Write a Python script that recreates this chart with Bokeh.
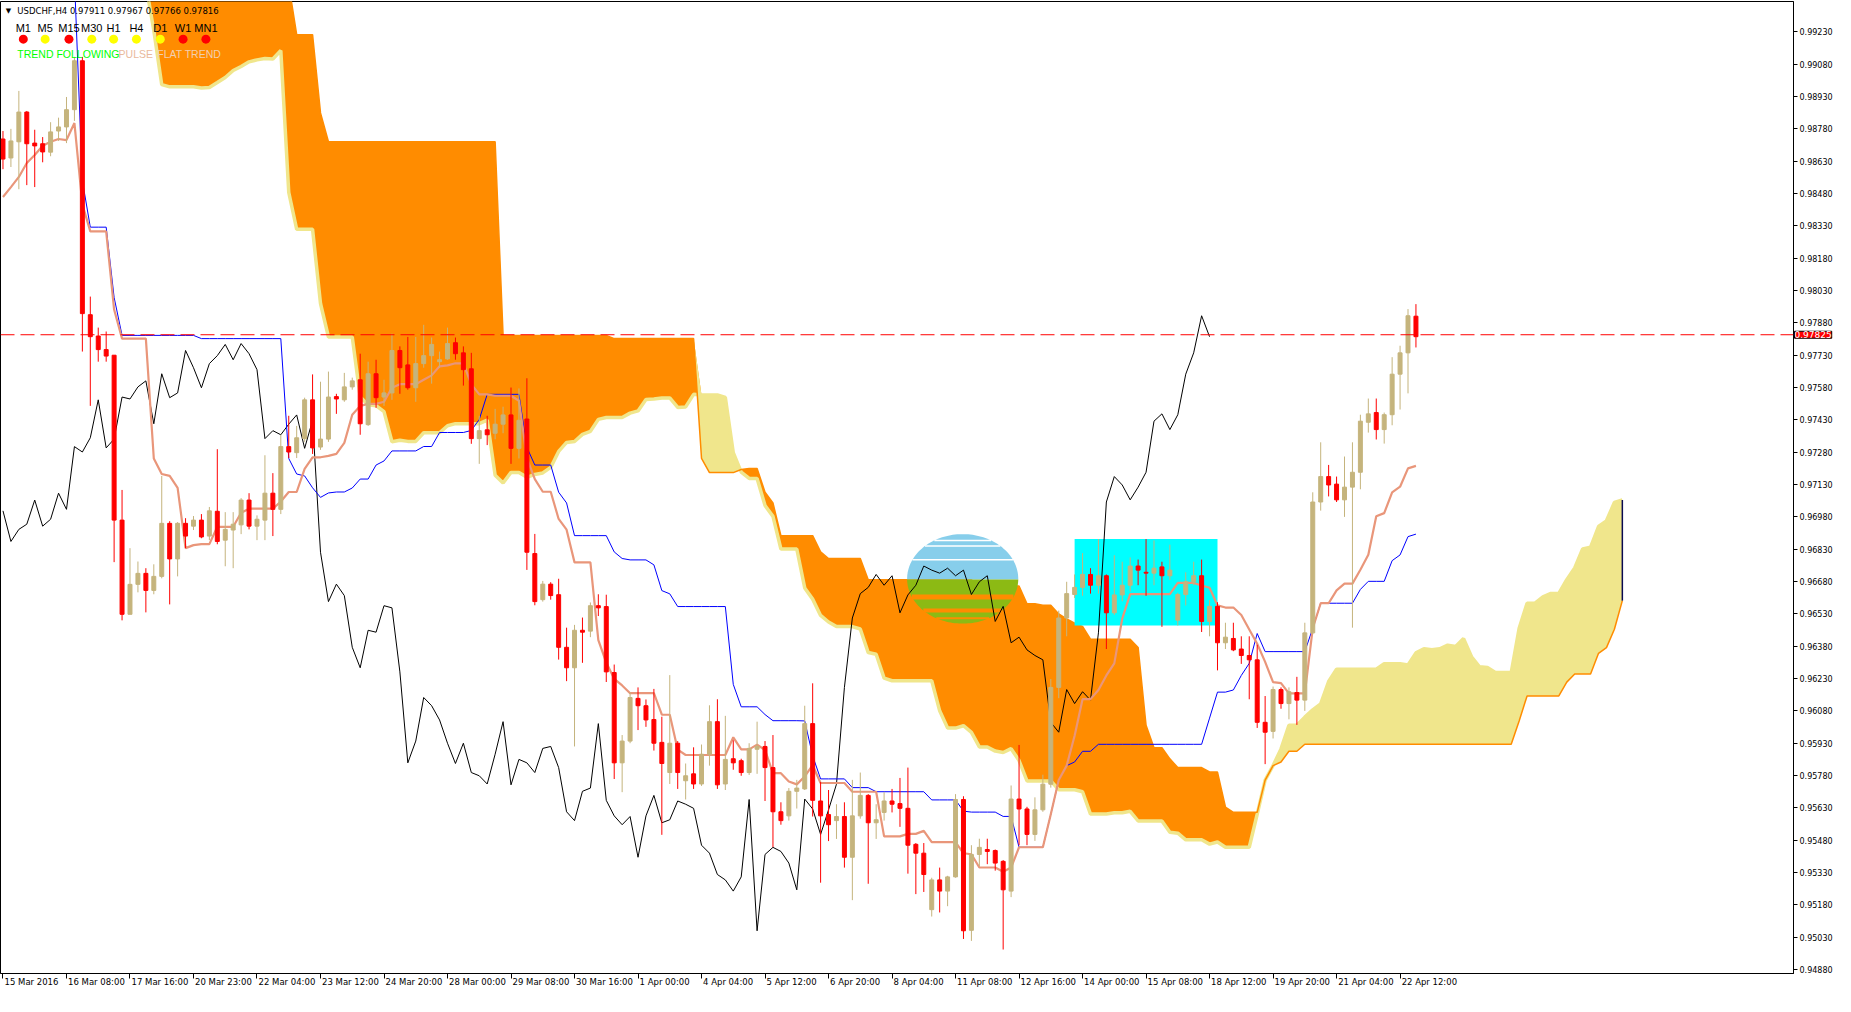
import numpy as np
from bokeh.plotting import figure
from bokeh.models import FixedTicker, PrintfTickFormatter, Span, Label
from bokeh.core.properties import value
from bokeh.embed import file_html
from bokeh.resources import INLINE

# ---------------- candle data (USDCHF H4), bars 0..178 ----------------
OPEN = [0.98733,0.98645,0.98720,0.98858,0.98714,0.98711,0.98672,0.98770,0.98789,0.98869,
        0.99096,0.97918,0.97819,0.97756,0.97730,0.96965,0.96528,0.96667,0.96718,0.96639,
        0.96704,0.96950,0.96785,0.96950,0.96937,0.96965,0.96891,0.97006,0.96872,0.96919,
        0.96943,0.97058,0.96937,0.96965,0.97090,0.97015,0.97306,0.97278,0.97343,0.97523,
        0.97304,0.97341,0.97538,0.97523,0.97583,0.97616,0.97408,0.97644,0.97536,0.97555,
        0.97752,0.97685,0.97579,0.97691,0.97728,0.97700,0.97713,0.97788,0.97741,0.97667,
        0.97343,0.97384,0.97368,0.97410,0.97453,0.97298,0.97434,0.96810,0.96596,0.96668,
        0.96619,0.96375,0.96280,0.96454,0.96450,0.96568,0.96564,0.96258,0.95839,0.95940,
        0.96138,0.96104,0.96040,0.95934,0.95794,0.95930,0.95756,0.95788,0.95741,0.95879,
        0.96030,0.95741,0.95858,0.95849,0.95794,0.95902,0.95915,0.95817,0.95612,0.95593,
        0.95707,0.95718,0.96021,0.95662,0.95599,0.95571,0.95590,0.95401,0.95593,0.95688,
        0.95561,0.95609,0.95662,0.95650,0.95628,0.95461,0.95420,0.95158,0.95296,0.95244,
        0.95310,0.95669,0.95062,0.95414,0.95437,0.95432,0.95382,0.95244,0.95671,0.95625,
        0.95507,0.95621,0.95740,0.96189,0.96511,0.96620,0.96653,0.96713,0.96663,0.96707,
        0.96535,0.96618,0.96663,0.96752,0.96723,0.96719,0.96748,0.96707,0.96501,0.96620,
        0.96679,0.96707,0.96495,0.96565,0.96396,0.96416,0.96367,0.96337,0.96317,0.96027,
        0.95985,0.96179,0.96114,0.96165,0.96130,0.96442,0.97049,0.97167,0.97132,0.97059,
        0.97118,0.97187,0.97419,0.97464,0.97385,0.97454,0.97642,0.97741,0.97911]
HIGH = [0.98770,0.98780,0.98956,0.98863,0.98776,0.98742,0.98811,0.98832,0.98928,0.99114,
        0.99114,0.98002,0.97858,0.97840,0.97730,0.97105,0.96835,0.96773,0.96742,0.96760,
        0.97170,0.96960,0.96956,0.96974,0.96984,0.96993,0.97026,0.97294,0.97002,0.97002,
        0.97067,0.97090,0.96987,0.97266,0.97183,0.97361,0.97449,0.97402,0.97533,0.97641,
        0.97607,0.97654,0.97551,0.97648,0.97626,0.97737,0.97700,0.97709,0.97616,0.97830,
        0.97771,0.97815,0.97815,0.97871,0.97812,0.97747,0.97858,0.97812,0.97771,0.97741,
        0.97449,0.97449,0.97481,0.97491,0.97580,0.97576,0.97623,0.96901,0.96683,0.96677,
        0.96693,0.96466,0.96479,0.96513,0.96583,0.96621,0.96619,0.96295,0.95968,0.96167,
        0.96189,0.96133,0.96182,0.96053,0.96246,0.95940,0.95836,0.95911,0.95924,0.96106,
        0.96134,0.96057,0.95944,0.95858,0.95930,0.96030,0.95940,0.95968,0.95656,0.95722,
        0.95760,0.96104,0.96208,0.95750,0.95713,0.95647,0.95656,0.95760,0.95794,0.95694,
        0.95647,0.95703,0.95718,0.95769,0.95817,0.95467,0.95467,0.95306,0.95353,0.95315,
        0.95694,0.95684,0.95457,0.95487,0.95487,0.95437,0.95388,0.95734,0.95922,0.95635,
        0.95679,0.95784,0.96228,0.96545,0.96679,0.96713,0.96812,0.96742,0.96877,0.96713,
        0.96802,0.96772,0.96792,0.96782,0.96877,0.96871,0.96772,0.96851,0.96628,0.96723,
        0.96772,0.96782,0.96594,0.96584,0.96489,0.96489,0.96426,0.96426,0.96387,0.96149,
        0.96193,0.96189,0.96189,0.96238,0.96489,0.97094,0.97326,0.97221,0.97167,0.97260,
        0.97326,0.97454,0.97529,0.97529,0.97464,0.97721,0.97774,0.97944,0.97967]
LOW = [0.98593,0.98603,0.98500,0.98519,0.98510,0.98625,0.98653,0.98724,0.98714,0.98817,
       0.97747,0.97495,0.97700,0.97700,0.96770,0.96500,0.96528,0.96630,0.96537,0.96621,
       0.96695,0.96574,0.96704,0.96835,0.96919,0.96881,0.96872,0.96853,0.96751,0.96742,
       0.96900,0.96922,0.96872,0.96872,0.96891,0.96993,0.97253,0.97253,0.97328,0.97272,
       0.97291,0.97328,0.97458,0.97514,0.97570,0.97361,0.97402,0.97486,0.97495,0.97523,
       0.97551,0.97570,0.97514,0.97672,0.97598,0.97672,0.97709,0.97709,0.97589,0.97319,
       0.97226,0.97313,0.97340,0.97368,0.97226,0.97251,0.96734,0.96570,0.96587,0.96596,
       0.96318,0.96218,0.95915,0.96303,0.96422,0.96520,0.96214,0.95764,0.95703,0.95930,
       0.95991,0.96006,0.95896,0.95505,0.95741,0.95718,0.95669,0.95718,0.95732,0.95826,
       0.95718,0.95713,0.95807,0.95779,0.95783,0.95788,0.95662,0.95448,0.95552,0.95571,
       0.95627,0.95713,0.95590,0.95283,0.95476,0.95486,0.95353,0.95202,0.95580,0.95278,
       0.95486,0.95571,0.95609,0.95542,0.95325,0.95230,0.95240,0.95126,0.95145,0.95174,
       0.95306,0.95022,0.95013,0.95359,0.95369,0.95339,0.94973,0.95216,0.95457,0.95457,
       0.95477,0.95612,0.95724,0.96139,0.96426,0.96604,0.96614,0.96624,0.96624,0.96367,
       0.96525,0.96588,0.96634,0.96663,0.96614,0.96663,0.96470,0.96687,0.96476,0.96569,
       0.96663,0.96446,0.96426,0.96268,0.96367,0.96357,0.96298,0.96134,0.96001,0.95833,
       0.95952,0.96090,0.96041,0.96015,0.96080,0.96436,0.97009,0.97075,0.97049,0.96980,
       0.96466,0.97108,0.97371,0.97339,0.97320,0.97405,0.97478,0.97553,0.97766]
CLOSE = [0.98640,0.98724,0.98858,0.98711,0.98701,0.98673,0.98766,0.98789,0.98869,0.99096,
         0.97923,0.97816,0.97756,0.97726,0.96965,0.96528,0.96667,0.96718,0.96639,0.96704,
         0.96950,0.96785,0.96950,0.96891,0.96965,0.96887,0.97008,0.96866,0.96922,0.96946,
         0.97058,0.96937,0.96969,0.97090,0.97015,0.97306,0.97281,0.97347,0.97523,0.97300,
         0.97341,0.97536,0.97527,0.97583,0.97611,0.97412,0.97644,0.97533,0.97555,0.97752,
         0.97672,0.97579,0.97691,0.97728,0.97780,0.97709,0.97784,0.97737,0.97663,0.97343,
         0.97380,0.97361,0.97410,0.97453,0.97298,0.97428,0.96816,0.96587,0.96668,0.96615,
         0.96375,0.96280,0.96454,0.96445,0.96568,0.96558,0.96261,0.95839,0.95940,0.96142,
         0.96104,0.96038,0.95930,0.95836,0.95930,0.95794,0.95779,0.95741,0.95879,0.96030,
         0.95737,0.95855,0.95839,0.95794,0.95906,0.95915,0.95817,0.95612,0.95571,0.95707,
         0.95722,0.96021,0.95665,0.95593,0.95552,0.95590,0.95401,0.95593,0.95688,0.95561,
         0.95575,0.95662,0.95647,0.95628,0.95457,0.95420,0.95321,0.95296,0.95244,0.95310,
         0.95669,0.95060,0.95414,0.95447,0.95428,0.95374,0.95250,0.95671,0.95625,0.95507,
         0.95621,0.95740,0.96189,0.96511,0.96624,0.96653,0.96713,0.96663,0.96707,0.96535,
         0.96618,0.96663,0.96752,0.96733,0.96719,0.96742,0.96707,0.96733,0.96620,0.96679,
         0.96707,0.96495,0.96565,0.96396,0.96422,0.96363,0.96337,0.96317,0.96027,0.95981,
         0.96179,0.96114,0.96169,0.96130,0.96442,0.97049,0.97167,0.97128,0.97059,0.97118,
         0.97187,0.97424,0.97458,0.97385,0.97454,0.97642,0.97741,0.97913,0.97816]

# Ichimoku values that depend on bars before the visible window
TENKAN_EARLY = [0.98464,0.98510,0.98557,0.98622,0.98659,0.98702,0.98720,0.98733]          # bars 0..7
KIJUN_EARLY_RUNS = [(10, 0.99480), (1, 0.98540), (3, 0.98324), (1, 0.97998), (10, 0.97822)]  # bars 0..24
SPANA_EARLY_RUNS = [(19, 0.99450), (1, 0.99236), (1, 0.98985), (4, 0.98975), (1, 0.98970)]   # cloud bars 0..25
SPANB_EARLY_RUNS = [(36, 0.99500), (1, 0.99450), (3, 0.99217), (1, 0.98854), (22, 0.98720),
                    (14, 0.97822)]                                                          # cloud bars 0..76

# axis labels
DATE_BARS = [0, 8, 16, 24, 32, 40, 48, 56, 64, 72, 80, 88, 96, 104, 112, 120, 128, 136, 144,
             152, 160, 168, 176]
DATE_LABELS = ["15 Mar 2016", "16 Mar 08:00", "17 Mar 16:00", "20 Mar 23:00", "22 Mar 04:00",
               "23 Mar 12:00", "24 Mar 20:00", "28 Mar 00:00", "29 Mar 08:00", "30 Mar 16:00",
               "1 Apr 00:00", "4 Apr 04:00", "5 Apr 12:00", "6 Apr 20:00", "8 Apr 04:00",
               "11 Apr 08:00", "12 Apr 16:00", "14 Apr 00:00", "15 Apr 08:00", "18 Apr 12:00",
               "19 Apr 20:00", "21 Apr 04:00", "22 Apr 12:00"]
PRICE_TICKS = [0.94880, 0.95030, 0.95180, 0.95330, 0.95480, 0.95630, 0.95780, 0.95930, 0.96080,
               0.96230, 0.96380, 0.96530, 0.96680, 0.96830, 0.96980, 0.97130, 0.97280, 0.97430,
               0.97580, 0.97730, 0.97880, 0.98030, 0.98180, 0.98330, 0.98480, 0.98630, 0.98780,
               0.98930, 0.99080, 0.99230]
MARK_PRICE = 0.97825

# drawn objects
RECT_BARS = (135, 153)
RECT_PRICES = (0.96476, 0.96877)
ELLIPSE_CENTER = (120.9, 0.966925)
ELLIPSE_HALF = (7.0, 0.002075)
ELLIPSE_CUT = 0.96690

# status panel
TF_NAMES = ["M1", "M5", "M15", "M30", "H1", "H4", "D1", "W1", "MN1"]
TF_STATE = ["red", "yellow", "red", "yellow", "yellow", "yellow", "yellow", "red", "red"]

# ---------------- derived indicator lines ----------------
n = len(CLOSE)

def expand(runs):
    out = []
    for cnt, v in runs:
        out.extend([v] * cnt)
    return out

KIJUN_EARLY = expand(KIJUN_EARLY_RUNS)
SPANA_EARLY = expand(SPANA_EARLY_RUNS)
SPANB_EARLY = expand(SPANB_EARLY_RUNS)

def mid(i, k):
    return (max(HIGH[i - k + 1:i + 1]) + min(LOW[i - k + 1:i + 1])) / 2.0

tenkan = [TENKAN_EARLY[i] if i < 8 else mid(i, 9) for i in range(n)]
kijun = [KIJUN_EARLY[i] if i < 25 else mid(i, 26) for i in range(n)]
cx = list(range(n + 26))
spanA = np.array([SPANA_EARLY[j] if j < 26 else (tenkan[j - 26] + kijun[j - 26]) / 2.0 for j in cx])
spanB = np.array([SPANB_EARLY[j] if j < 77 else mid(j - 26, 52) for j in cx])
top = np.maximum(spanA, spanB)

# ---------------- geometry helpers (reference pixel -> data) ----------------
def rx(px):
    return (px - 3.5) / 8.0

def ry(py):
    return 0.99230 - (py - 31.9) * 0.0015 / 32.9

XR = (rx(1), rx(1808))
YR = (ry(990), ry(1))

FIG_W, FIG_H = 1835, 996
p = figure(width=FIG_W, height=FIG_H, x_range=XR, y_range=YR, y_axis_location="right",
           output_backend="svg", toolbar_location=None, min_border_left=0, min_border_top=1,
           min_border_right=0, min_border_bottom=0)
p.grid.visible = False
p.outline_line_color = "black"
p.background_fill_color = "white"
p.border_fill_color = "white"

# price axis
p.yaxis.ticker = FixedTicker(ticks=PRICE_TICKS)
p.yaxis.formatter = PrintfTickFormatter(format="%.5f")
p.yaxis.major_label_text_font = "DejaVu Sans"
p.yaxis.major_label_text_font_size = "8px"
p.yaxis.major_label_text_color = "black"
p.yaxis.major_tick_out = 4
p.yaxis.major_tick_in = 0
p.yaxis.minor_tick_out = 0
p.yaxis.minor_tick_in = 0
p.yaxis.major_label_standoff = 2
p.yaxis.axis_label_standoff = 0
p.yaxis.axis_line_color = "black"

# time axis: tick marks (minor ticks) on the bars, labels start just right of each tick
ADV = {**{d: 0.636 for d in "0123456789"}, " ": 0.318, ":": 0.337, "M": 0.863, "a": 0.613,
       "r": 0.411, "A": 0.684, "p": 0.635}
LBL_PX = 8.5
frame_w = FIG_W - 46
px_per_bar = frame_w / (XR[1] - XR[0])
centers = [b + (1.5 + sum(ADV.get(ch, 0.6) for ch in s) * LBL_PX / 2.0) / px_per_bar
           for b, s in zip(DATE_BARS, DATE_LABELS)]
p.xaxis.ticker = FixedTicker(ticks=centers, minor_ticks=DATE_BARS)
p.xaxis.major_label_overrides = {c: s for c, s in zip(centers, DATE_LABELS)}
p.xaxis.major_label_text_font = "DejaVu Sans"
p.xaxis.major_label_text_font_size = "8.5px"
p.xaxis.major_label_text_color = "black"
p.xaxis.major_label_standoff = -2
p.xaxis.axis_label_standoff = 0
p.xaxis.major_tick_out = 0
p.xaxis.major_tick_in = 0
p.xaxis.minor_tick_out = 5
p.xaxis.minor_tick_in = 0
p.xaxis.minor_tick_line_color = "black"
p.xaxis.axis_line_color = "black"

# ---------------- cloud ----------------
p.varea(x=cx, y1=spanA, y2=top, fill_color="#FF8C00")
p.varea(x=cx, y1=spanB, y2=top, fill_color="#F0E68C")
p.line(cx, spanA, line_color="#F0E68C", line_width=3.5)
p.line(cx, spanB, line_color="#FF8C00", line_width=1.5)
p.segment(x0=[cx[-1]], y0=[spanA[-1]], x1=[cx[-1]], y1=[spanB[-1]], line_color="#0A0A50",
          line_width=1.5)

# ---------------- drawn objects ----------------
p.quad(left=[RECT_BARS[0]], right=[RECT_BARS[1]], bottom=[RECT_PRICES[0]], top=[RECT_PRICES[1]],
       fill_color="#00FFFF", line_color=None)

ecx, ecy = ELLIPSE_CENTER
ea, eb = ELLIPSE_HALF
th0 = np.arcsin((ELLIPSE_CUT - ecy) / eb)
tt = np.linspace(th0, np.pi - th0, 80)
p.patch(ecx + ea * np.cos(tt), ecy + eb * np.sin(tt), fill_color="#87CEEB", line_color=None)
tb = np.linspace(np.pi - th0, 2 * np.pi + th0, 80)
p.patch(ecx + ea * np.cos(tb), ecy + eb * np.sin(tb), fill_color="#8CBA14", line_color=None)

def hw(yv):
    return ea * np.sqrt(max(0.0, 1 - ((yv - ecy) / eb) ** 2))

white_lv = [0.96871, 0.96845, 0.96781]
orange_lv = [(0.96608, 5), (0.96546, 4), (0.96510, 2)]
p.segment(x0=[ecx - hw(v) for v in white_lv], y0=white_lv, x1=[ecx + hw(v) for v in white_lv],
          y1=white_lv, line_color="white", line_width=1.5)
for v, w in orange_lv:
    p.segment(x0=[ecx - hw(v)], y0=[v], x1=[ecx + hw(v)], y1=[v], line_color="#FF8C00",
              line_width=w)

# ---------------- lines ----------------
p.line(list(range(n - 26)), CLOSE[26:], line_color="black", line_width=1)
p.line(list(range(n)), kijun, line_color="#0000FF", line_width=1)
p.line(list(range(n)), tenkan, line_color="#E9967A", line_width=2.2)

# ---------------- candles ----------------
bars = np.arange(n)
O = np.array(OPEN); C = np.array(CLOSE); H = np.array(HIGH); L = np.array(LOW)
up = C >= O
cols = np.where(up, "#C5B47D", "#FF0000")
p.segment(x0=bars, y0=L, x1=bars, y1=H, line_color=cols, line_width=1)
p.vbar(x=bars, width=0.5, top=np.maximum(O, C), bottom=np.minimum(O, C), fill_color=cols,
       line_color=cols, line_width=1)

# price mark line
p.add_layout(Span(location=MARK_PRICE, dimension="width", line_color="#FF0000", line_width=1,
                  line_dash="14 6"))

# price-scale marker label (kept in a side panel so it is not clipped to the frame)
p.add_layout(Label(x=XR[1], y=MARK_PRICE, x_offset=1, text="%.5f" % MARK_PRICE,
                   text_color="white", text_font_size="9px", text_font="DejaVu Sans",
                   text_baseline="middle", background_fill_color="#FF0000",
                   border_line_color="black", border_line_width=1), "below")

# ---------------- header / status panel ----------------
p.text(x=[rx(9)], y=[ry(11)], text=["\u25BC"], text_font=value("DejaVu Sans"),
       text_font_size="7px", text_baseline="middle", text_align="center", text_color="black")
p.text(x=[rx(18)], y=[ry(11)],
       text=["USDCHF,H4  %.5f %.5f %.5f %.5f" % (OPEN[-1], HIGH[-1], LOW[-1], CLOSE[-1])],
       text_font=value("DejaVu Sans"), text_font_size="8.5px", text_baseline="middle",
       text_align="left", text_color="black")
tf_px = [24, 46, 70, 93, 115, 138, 162, 185, 208]
p.text(x=[rx(v) for v in tf_px], y=[ry(28)] * len(tf_px), text=TF_NAMES,
       text_font=value("Liberation Sans"), text_font_size="11px", text_baseline="middle",
       text_align="center", text_color="black")
p.scatter(x=[rx(v) for v in tf_px], y=[ry(39.3)] * len(tf_px), size=9,
          fill_color=["#FF0000" if s == "red" else "#FFFF00" for s in TF_STATE], line_color=None)
p.text(x=[rx(18), rx(120), rx(159)], y=[ry(54)] * 3, text=["TREND FOLLOWING", "PULSE", "FLAT TREND"],
       text_font=value("Liberation Sans"), text_font_size="10.5px", text_baseline="middle",
       text_align="left", text_color=["#00FF00", "#E9B99C", "#F2CFB0"])

open("out.html", "w").write(file_html(p, INLINE))
